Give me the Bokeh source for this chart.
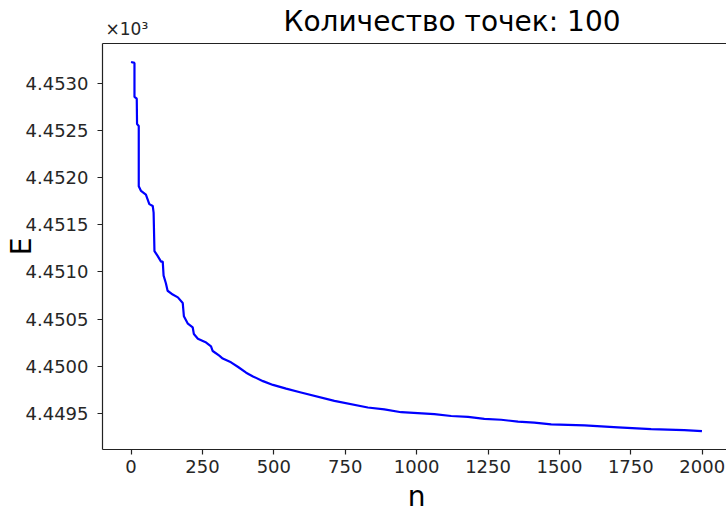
import math
from bokeh.plotting import figure
from bokeh.models import FixedTicker, PrintfTickFormatter, Range1d, Label
from bokeh.embed import file_html
from bokeh.resources import INLINE

# ---- data ----
n_vals = [0, 12, 12, 20, 21, 27, 27, 35, 52, 64,
          76, 79, 82, 93, 105, 111, 114, 122, 128, 146,
          164, 181, 185, 199, 216, 220, 234, 263, 280, 286,
          309, 321, 350, 375, 403, 427, 462, 497, 543, 595,
          712, 829, 887, 946, 1062, 1121, 1180, 1237, 1296, 1355,
          1412, 1471, 1588, 1705, 1821, 1937, 1999]
E_vals = [4453.23, 4453.22, 4452.86, 4452.84, 4452.57, 4452.55, 4451.91, 4451.86, 4451.82, 4451.72,
          4451.70, 4451.63, 4451.22, 4451.17, 4451.11, 4451.11, 4450.96, 4450.88, 4450.80, 4450.76,
          4450.73, 4450.67, 4450.53, 4450.45, 4450.41, 4450.34, 4450.29, 4450.25, 4450.21, 4450.16,
          4450.11, 4450.08, 4450.04, 4449.99, 4449.93, 4449.89, 4449.84, 4449.80, 4449.76, 4449.72,
          4449.63, 4449.56, 4449.54, 4449.51, 4449.49, 4449.47, 4449.46, 4449.44, 4449.43, 4449.41,
          4449.40, 4449.38, 4449.37, 4449.35, 4449.33, 4449.32, 4449.31]
x_ticks = [0, 250, 500, 750, 1000, 1250, 1500, 1750, 2000]
y_ticks = [4.4495, 4.4500, 4.4505, 4.4510, 4.4515, 4.4520, 4.4525, 4.4530]
title_text = "Количество точек: 100"
x_label = "n"
y_label = "E"
offset_text = "×10³"

E_scaled = [e / 1000.0 for e in E_vals]

FONT = "DejaVu Sans"
W, H = 726, 513
AX_L, AX_T = 102, 43            # top-left corner of the axes box (px)
AX_W, AX_H = 628.0, 406.0       # axes box size (right side cut by the image edge)

# matplotlib-like 5% margins
nmax = max(n_vals)
xmin = -0.05 * nmax
xmax = nmax * 1.05
ylo, yhi = min(E_scaled), max(E_scaled)
span = yhi - ylo
y0, y1 = ylo - 0.05 * span, yhi + 0.05 * span

ppx = (xmax - xmin) / AX_W
ppy = (y1 - y0) / AX_H
x_start = xmin - AX_L * ppx
x_end = x_start + W * ppx
y_top = y1 + AX_T * ppy
y_bot = y_top - H * ppy

def dx(px):
    return x_start + px * ppx

def dy(py):
    return y_top - py * ppy

# the frame covers the whole canvas; axes are pinned at the box edges
p = figure(width=W, height=H, output_backend="svg", toolbar_location=None,
           title=None,
           x_range=Range1d(x_start, x_end), y_range=Range1d(y_bot, y_top),
           min_border=0)
p.grid.visible = False
p.outline_line_color = None
p.background_fill_color = "white"
p.border_fill_color = "white"

SPINE = "#222222"
x_right = dx(W + 10)
p.segment(x0=[xmin, xmin, xmin], y0=[y0, y1, y0],
          x1=[xmin, x_right, x_right], y1=[y1, y1, y0],
          line_color=SPINE, line_width=1.2)

p.line(n_vals, E_scaled, line_color="#0000ff", line_width=2.2)

def style_axis(ax):
    ax.axis_line_color = None
    ax.major_tick_line_color = SPINE
    ax.major_tick_line_width = 1.2
    ax.major_tick_out = 5
    ax.major_tick_in = 0
    ax.minor_tick_line_color = None
    ax.major_label_text_font = FONT
    ax.major_label_text_font_size = "18px"
    ax.major_label_text_color = "#262626"

xa = p.xaxis[0]
ya = p.yaxis[0]
style_axis(xa)
style_axis(ya)
xa.ticker = FixedTicker(ticks=x_ticks)
ya.ticker = FixedTicker(ticks=y_ticks)
ya.formatter = PrintfTickFormatter(format="%.4f")
xa.fixed_location = y0
ya.fixed_location = xmin
xa.major_label_standoff = 5
ya.major_label_standoff = 9

def label(px, py, text, size, color="#000000", align="left", angle=0.0):
    # (px, py) is the visual centre line of the text
    p.add_layout(Label(x=dx(px), y=dy(py), text=text, angle=angle,
                       text_font=FONT, text_font_size=size, text_color=color,
                       text_align=align, text_baseline="middle"))

label(283, 21, title_text, "28px")
label(105, 28, offset_text, "17px", color="#262626")
label(AX_L + AX_W / 2, 496, x_label, "28px", align="center")
label(21, AX_T + AX_H / 2, y_label, "28px", align="center", angle=math.pi / 2)

open("out.html", "w").write(file_html(p, INLINE))
